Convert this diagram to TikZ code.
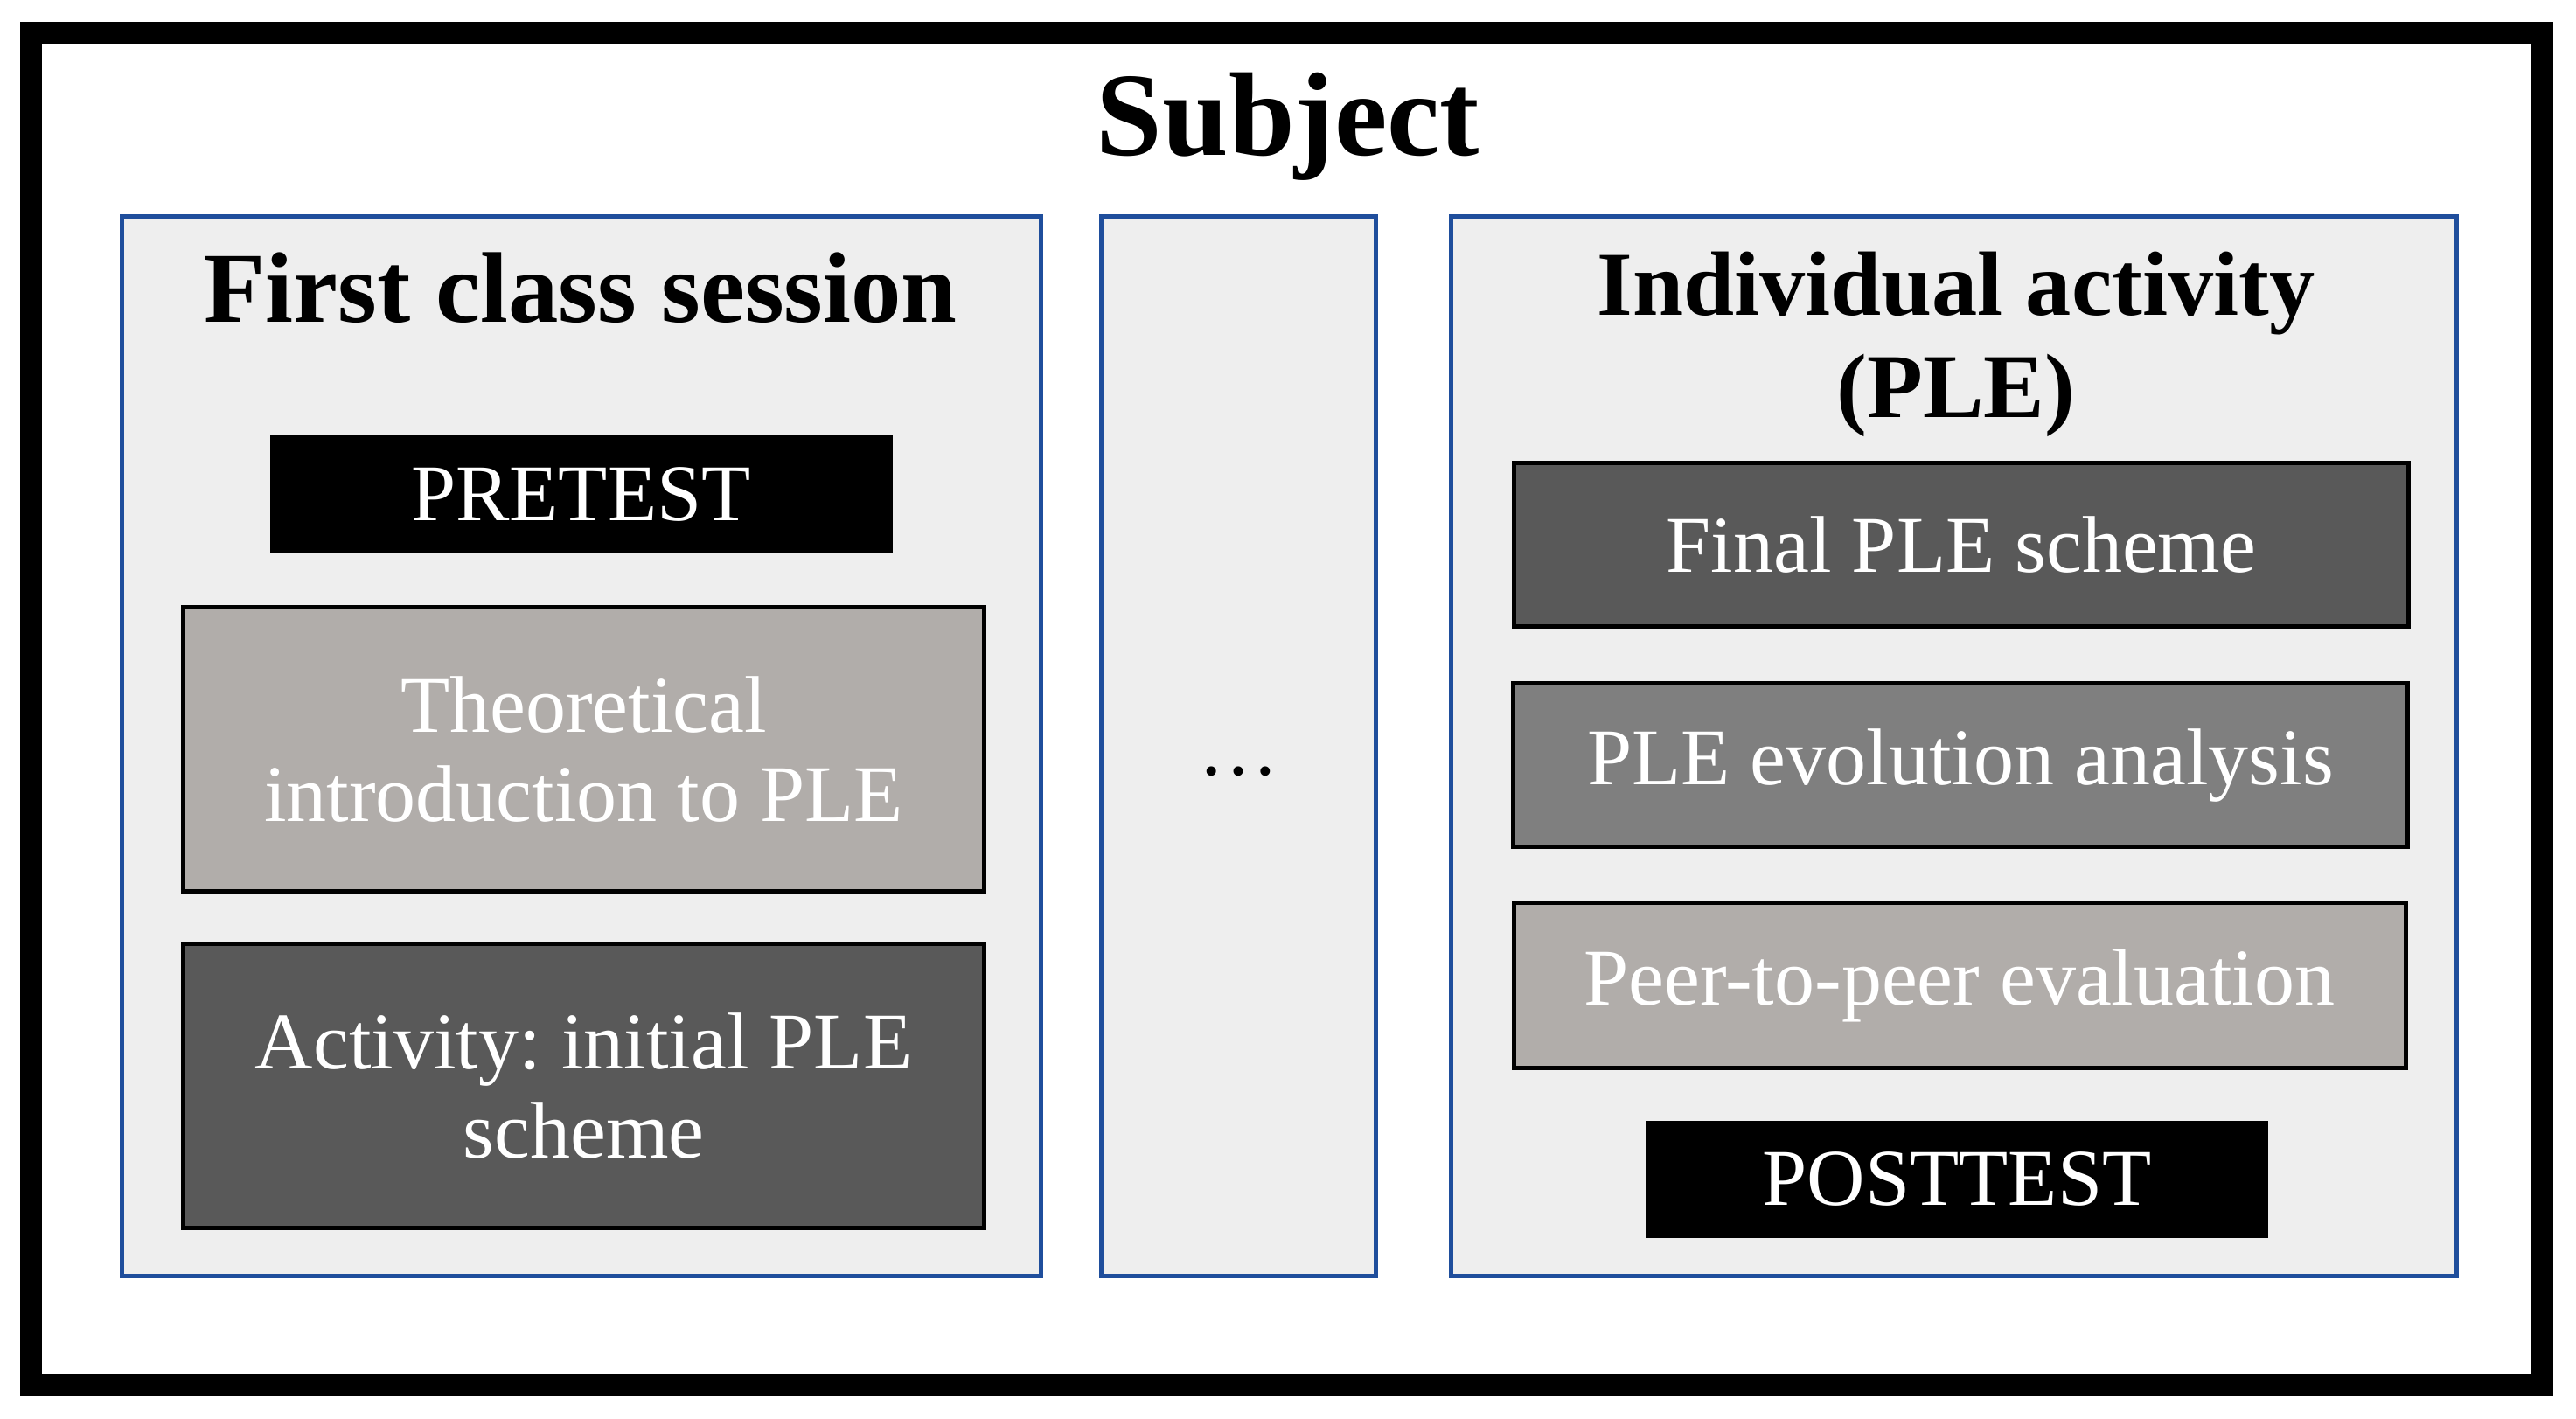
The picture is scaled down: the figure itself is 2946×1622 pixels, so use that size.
\documentclass[tikz,border=0pt]{standalone}
\usepackage{fontspec}
\setmainfont{Liberation Serif}
\frenchspacing

\definecolor{panelblue}{HTML}{1F4E9C}
\definecolor{panelgray}{HTML}{EEEEEE}
\definecolor{lightstep}{HTML}{B1ADAA}
\definecolor{midstep}{HTML}{7F7F7F}
\definecolor{darkstep}{HTML}{595959}

\newcommand{\bodyfont}{\fontsize{23}{25.5}\selectfont}
\newcommand{\headfont}{\bfseries\fontsize{28.7}{29.25}\selectfont}

\tikzset{
  panel/.style={draw=panelblue,fill=panelgray,line width=1.25pt,minimum height=303pt,inner sep=0pt},
  stepbox/.style={draw=black,line width=1.25pt,text=white,minimum width=229pt,align=center,font=\bodyfont},
  testbox/.style={fill=black,text=white,minimum width=178pt,minimum height=33.5pt,font=\bodyfont},
  head/.style={anchor=base,align=center,font=\headfont}
}

\begin{document}
\begin{tikzpicture}[x=0.25pt,y=-0.25pt]
  \useasboundingbox (0,0) rectangle (2946,1622);
  % outer frame
  \node[draw,line width=6.25pt,minimum width=718pt,minimum height=386.75pt,inner sep=0pt] (subject) at (1471,810.5) {};
  \node[anchor=base,font=\bfseries\fontsize{34}{38}\selectfont] (subjecttitle) at (1473,177) {Subject};

  % three columns
  \node[panel,minimum width=262.75pt] (first) at (664.5,853) {};
  \node[panel,minimum width=78.5pt] (middle) at (1416,853) {};
  \node[panel,minimum width=287.5pt] (indiv) at (2234,853) {};

  \node[head] (firsttitle) at (664,368) {First class session};
  \node[head,font=\bfseries\fontsize{26.1}{29.25}\selectfont] (indivtitle) at (2237,477) {Individual activity\\(PLE)};
  \node[anchor=base,font=\bodyfont] (dots) at (1416,886) {…};

  % first class session
  \node[testbox] (pretest) at (664.5,565) {PRETEST};
  \node[stepbox,fill=lightstep,minimum height=81.25pt] (theory) at (667.5,857) {Theoretical\\introduction to PLE};
  \node[stepbox,fill=darkstep,minimum height=81.25pt] (initial) at (667.5,1242) {Activity: initial PLE\\scheme};

  % individual activity
  \node[stepbox,fill=darkstep,minimum width=255.75pt,minimum height=46.75pt] (final) at (2243,623) {Final PLE scheme};
  \node[stepbox,fill=midstep,minimum width=255.75pt,minimum height=46.75pt] (evolution) at (2242,875) {PLE evolution analysis};
  \node[stepbox,fill=lightstep,minimum width=255pt,minimum height=47.25pt] (peer) at (2241,1127) {Peer-to-peer evaluation};
  \node[testbox] (posttest) at (2238,1348.5) {POSTTEST};
\end{tikzpicture}
\end{document}
